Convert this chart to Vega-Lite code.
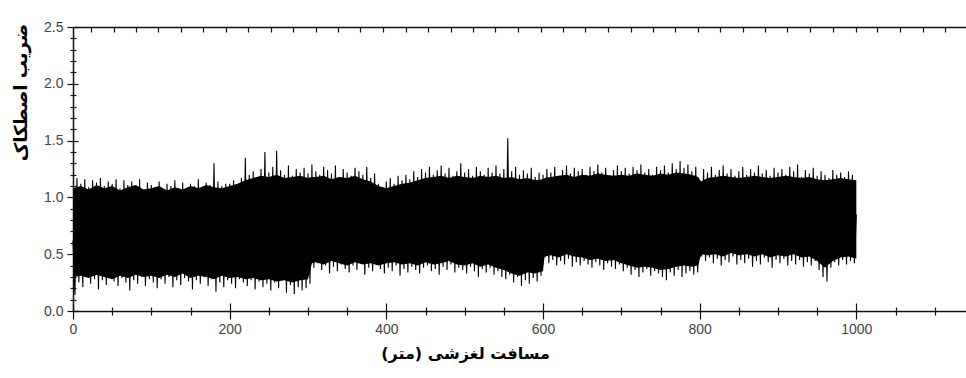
{
"$schema": "https://vega.github.io/schema/vega-lite/v6.json",
"autosize": "none",
"width": 893,
"height": 284,
"padding": {"left": 73, "top": 27, "right": 0, "bottom": 67},
"background": "white",
"config": {"view": {"stroke": null}, "axis": {"grid": false, "labelFont": "Liberation Sans", "labelFontSize": 14, "labelColor": "#444", "domainColor": "#111", "domainWidth": 1.5, "tickColor": "#111", "tickWidth": 1.2, "titleFont": "DejaVu Sans", "titleFontWeight": "bold", "titleFontSize": 16, "titleColor": "#000", "labelOverlap": false, "labelFlush": false}},
"datasets": {
"band": [
{"d":0,"hi":1.08,"lo":0.3},{"d":10,"hi":1.1,"lo":0.31},{"d":20,"hi":1.07,"lo":0.29},{"d":30,"hi":1.11,"lo":0.32},{"d":40,"hi":1.08,"lo":0.3},{"d":50,"hi":1.1,"lo":0.28},{"d":60,"hi":1.06,"lo":0.31},{"d":70,"hi":1.09,"lo":0.29},{"d":80,"hi":1.11,"lo":0.32},{"d":90,"hi":1.07,"lo":0.3},
{"d":100,"hi":1.08,"lo":0.31},{"d":110,"hi":1.1,"lo":0.29},{"d":120,"hi":1.06,"lo":0.32},{"d":130,"hi":1.09,"lo":0.3},{"d":140,"hi":1.07,"lo":0.33},{"d":150,"hi":1.1,"lo":0.29},{"d":160,"hi":1.08,"lo":0.31},{"d":170,"hi":1.11,"lo":0.3},{"d":180,"hi":1.09,"lo":0.28},{"d":190,"hi":1.08,"lo":0.31},
{"d":200,"hi":1.1,"lo":0.29},{"d":210,"hi":1.12,"lo":0.3},{"d":220,"hi":1.15,"lo":0.28},{"d":230,"hi":1.17,"lo":0.29},{"d":240,"hi":1.19,"lo":0.27},{"d":250,"hi":1.18,"lo":0.28},{"d":260,"hi":1.2,"lo":0.26},{"d":270,"hi":1.17,"lo":0.27},{"d":280,"hi":1.18,"lo":0.25},{"d":290,"hi":1.19,"lo":0.27},
{"d":300,"hi":1.17,"lo":0.28},{"d":305,"hi":1.18,"lo":0.42},{"d":310,"hi":1.18,"lo":0.43},{"d":320,"hi":1.19,"lo":0.41},{"d":330,"hi":1.16,"lo":0.44},{"d":340,"hi":1.18,"lo":0.42},{"d":350,"hi":1.17,"lo":0.4},{"d":360,"hi":1.19,"lo":0.43},{"d":370,"hi":1.16,"lo":0.41},{"d":380,"hi":1.14,"lo":0.42},{"d":390,"hi":1.1,"lo":0.4},
{"d":400,"hi":1.08,"lo":0.42},{"d":410,"hi":1.1,"lo":0.43},{"d":420,"hi":1.12,"lo":0.41},{"d":430,"hi":1.13,"lo":0.42},{"d":440,"hi":1.15,"lo":0.4},{"d":450,"hi":1.17,"lo":0.43},{"d":460,"hi":1.18,"lo":0.41},{"d":470,"hi":1.19,"lo":0.42},{"d":480,"hi":1.17,"lo":0.44},{"d":490,"hi":1.19,"lo":0.41},
{"d":500,"hi":1.18,"lo":0.4},{"d":510,"hi":1.17,"lo":0.42},{"d":520,"hi":1.19,"lo":0.39},{"d":530,"hi":1.18,"lo":0.41},{"d":540,"hi":1.19,"lo":0.38},{"d":550,"hi":1.17,"lo":0.36},{"d":560,"hi":1.18,"lo":0.33},{"d":570,"hi":1.16,"lo":0.31},{"d":580,"hi":1.17,"lo":0.34},{"d":590,"hi":1.15,"lo":0.33},
{"d":600,"hi":1.16,"lo":0.35},{"d":602,"hi":1.17,"lo":0.48},{"d":610,"hi":1.18,"lo":0.49},{"d":620,"hi":1.19,"lo":0.47},{"d":630,"hi":1.2,"lo":0.5},{"d":640,"hi":1.18,"lo":0.48},{"d":650,"hi":1.2,"lo":0.47},{"d":660,"hi":1.19,"lo":0.45},{"d":670,"hi":1.21,"lo":0.46},{"d":680,"hi":1.2,"lo":0.44},{"d":690,"hi":1.19,"lo":0.45},
{"d":700,"hi":1.2,"lo":0.42},{"d":710,"hi":1.19,"lo":0.4},{"d":720,"hi":1.21,"lo":0.38},{"d":730,"hi":1.2,"lo":0.39},{"d":740,"hi":1.19,"lo":0.38},{"d":750,"hi":1.21,"lo":0.36},{"d":760,"hi":1.2,"lo":0.37},{"d":770,"hi":1.22,"lo":0.39},{"d":780,"hi":1.21,"lo":0.4},{"d":790,"hi":1.2,"lo":0.39},{"d":798,"hi":1.18,"lo":0.4},
{"d":802,"hi":1.14,"lo":0.5},{"d":810,"hi":1.17,"lo":0.49},{"d":820,"hi":1.18,"lo":0.5},{"d":830,"hi":1.19,"lo":0.48},{"d":840,"hi":1.18,"lo":0.51},{"d":850,"hi":1.17,"lo":0.49},{"d":860,"hi":1.18,"lo":0.5},{"d":870,"hi":1.19,"lo":0.48},{"d":880,"hi":1.18,"lo":0.5},{"d":890,"hi":1.17,"lo":0.47},
{"d":900,"hi":1.18,"lo":0.49},{"d":910,"hi":1.19,"lo":0.48},{"d":920,"hi":1.18,"lo":0.5},{"d":930,"hi":1.17,"lo":0.47},{"d":940,"hi":1.18,"lo":0.48},{"d":950,"hi":1.16,"lo":0.44},{"d":960,"hi":1.15,"lo":0.38},{"d":970,"hi":1.16,"lo":0.44},{"d":980,"hi":1.17,"lo":0.47},{"d":990,"hi":1.16,"lo":0.48},{"d":1000,"hi":1.15,"lo":0.46}
],
"sig": [
{"d":0,"f":0.62},{"d":2.5,"f":0.14},{"d":5,"f":1.17},{"d":7.5,"f":0.25},{"d":10,"f":1.12},{"d":12.5,"f":0.21},{"d":15,"f":1.16},{"d":17.5,"f":0.3},{"d":20,"f":1.09},{"d":22.5,"f":0.24},{"d":25,"f":1.15},{"d":27.5,"f":0.28},{"d":30,"f":1.13},{"d":32.5,"f":0.19},{"d":35,"f":1.17},{"d":37.5,"f":0.27},{"d":40,"f":1.1},{"d":42.5,"f":0.23},{"d":45,"f":1.14},{"d":47.5,"f":0.3},
{"d":50,"f":1.12},{"d":52.5,"f":0.26},{"d":55,"f":1.16},{"d":57.5,"f":0.22},{"d":60,"f":1.08},{"d":62.5,"f":0.29},{"d":65,"f":1.15},{"d":67.5,"f":0.25},{"d":70,"f":1.11},{"d":72.5,"f":0.18},{"d":75,"f":1.14},{"d":77.5,"f":0.27},{"d":80,"f":1.1},{"d":82.5,"f":0.24},{"d":85,"f":1.16},{"d":87.5,"f":0.3},{"d":90,"f":1.07},{"d":92.5,"f":0.22},{"d":95,"f":1.13},{"d":97.5,"f":0.28},
{"d":100,"f":1.11},{"d":102.5,"f":0.25},{"d":105,"f":1.09},{"d":107.5,"f":0.2},{"d":110,"f":1.14},{"d":112.5,"f":0.28},{"d":115,"f":1.06},{"d":117.5,"f":0.24},{"d":120,"f":1.12},{"d":122.5,"f":0.3},{"d":125,"f":1.1},{"d":127.5,"f":0.21},{"d":130,"f":1.15},{"d":132.5,"f":0.27},{"d":135,"f":1.08},{"d":137.5,"f":0.23},{"d":140,"f":1.13},{"d":142.5,"f":0.29},{"d":145,"f":1.05},{"d":147.5,"f":0.26},
{"d":150,"f":1.12},{"d":152.5,"f":0.19},{"d":155,"f":1.1},{"d":157.5,"f":0.27},{"d":160,"f":1.16},{"d":162.5,"f":0.24},{"d":165,"f":1.09},{"d":167.5,"f":0.3},{"d":170,"f":1.13},{"d":172.5,"f":0.22},{"d":175,"f":1.11},{"d":177.5,"f":0.28},{"d":180,"f":1.3},{"d":182.5,"f":0.17},{"d":185,"f":1.14},{"d":187.5,"f":0.25},{"d":190,"f":1.1},{"d":192.5,"f":0.21},{"d":195,"f":1.12},{"d":197.5,"f":0.27},
{"d":200,"f":1.12},{"d":202.5,"f":0.24},{"d":205,"f":1.15},{"d":207.5,"f":0.2},{"d":210,"f":1.1},{"d":212.5,"f":0.28},{"d":215,"f":1.17},{"d":217.5,"f":0.25},{"d":220,"f":1.35},{"d":222.5,"f":0.22},{"d":225,"f":1.2},{"d":227.5,"f":0.27},{"d":230,"f":1.23},{"d":232.5,"f":0.19},{"d":235,"f":1.18},{"d":237.5,"f":0.26},{"d":240,"f":1.25},{"d":242.5,"f":0.21},{"d":245,"f":1.4},{"d":247.5,"f":0.24},
{"d":250,"f":1.22},{"d":252.5,"f":0.18},{"d":255,"f":1.27},{"d":257.5,"f":0.25},{"d":260,"f":1.41},{"d":262.5,"f":0.2},{"d":265,"f":1.24},{"d":267.5,"f":0.27},{"d":270,"f":1.2},{"d":272.5,"f":0.16},{"d":275,"f":1.28},{"d":277.5,"f":0.23},{"d":280,"f":1.19},{"d":282.5,"f":0.15},{"d":285,"f":1.25},{"d":287.5,"f":0.21},{"d":290,"f":1.22},{"d":292.5,"f":0.18},{"d":295,"f":1.26},{"d":297.5,"f":0.2},
{"d":300,"f":1.21},{"d":302.5,"f":0.24},{"d":305,"f":1.29},{"d":307.5,"f":0.38},{"d":310,"f":1.23},{"d":312.5,"f":0.42},{"d":315,"f":1.2},{"d":317.5,"f":0.36},{"d":320,"f":1.27},{"d":322.5,"f":0.4},{"d":325,"f":1.24},{"d":327.5,"f":0.33},{"d":330,"f":1.21},{"d":332.5,"f":0.39},{"d":335,"f":1.28},{"d":337.5,"f":0.35},{"d":340,"f":1.18},{"d":342.5,"f":0.41},{"d":345,"f":1.25},{"d":347.5,"f":0.37},
{"d":350,"f":1.22},{"d":352.5,"f":0.34},{"d":355,"f":1.19},{"d":357.5,"f":0.4},{"d":360,"f":1.26},{"d":362.5,"f":0.36},{"d":365,"f":1.23},{"d":367.5,"f":0.43},{"d":370,"f":1.2},{"d":372.5,"f":0.32},{"d":375,"f":1.27},{"d":377.5,"f":0.38},{"d":380,"f":1.17},{"d":382.5,"f":0.35},{"d":385,"f":1.21},{"d":387.5,"f":0.41},{"d":390,"f":1.12},{"d":392.5,"f":0.37},{"d":395,"f":1.09},{"d":397.5,"f":0.33},
{"d":400,"f":1.14},{"d":402.5,"f":0.38},{"d":405,"f":1.17},{"d":407.5,"f":0.35},{"d":410,"f":1.12},{"d":412.5,"f":0.4},{"d":415,"f":1.19},{"d":417.5,"f":0.31},{"d":420,"f":1.15},{"d":422.5,"f":0.37},{"d":425,"f":1.2},{"d":427.5,"f":0.34},{"d":430,"f":1.16},{"d":432.5,"f":0.39},{"d":435,"f":1.23},{"d":437.5,"f":0.36},{"d":440,"f":1.18},{"d":442.5,"f":0.33},{"d":445,"f":1.25},{"d":447.5,"f":0.38},
{"d":450,"f":1.22},{"d":452.5,"f":0.4},{"d":455,"f":1.27},{"d":457.5,"f":0.35},{"d":460,"f":1.2},{"d":462.5,"f":0.37},{"d":465,"f":1.24},{"d":467.5,"f":0.32},{"d":470,"f":1.28},{"d":472.5,"f":0.39},{"d":475,"f":1.21},{"d":477.5,"f":0.36},{"d":480,"f":1.26},{"d":482.5,"f":0.41},{"d":485,"f":1.19},{"d":487.5,"f":0.34},{"d":490,"f":1.23},{"d":492.5,"f":0.38},{"d":495,"f":1.3},{"d":497.5,"f":0.36},
{"d":500,"f":1.22},{"d":502.5,"f":0.33},{"d":505,"f":1.25},{"d":507.5,"f":0.39},{"d":510,"f":1.19},{"d":512.5,"f":0.35},{"d":515,"f":1.27},{"d":517.5,"f":0.3},{"d":520,"f":1.23},{"d":522.5,"f":0.37},{"d":525,"f":1.2},{"d":527.5,"f":0.34},{"d":530,"f":1.26},{"d":532.5,"f":0.38},{"d":535,"f":1.22},{"d":537.5,"f":0.32},{"d":540,"f":1.28},{"d":542.5,"f":0.35},{"d":545,"f":1.21},{"d":547.5,"f":0.3},
{"d":550,"f":1.25},{"d":552.5,"f":0.28},{"d":555,"f":1.52},{"d":557.5,"f":0.32},{"d":560,"f":1.23},{"d":562.5,"f":0.25},{"d":565,"f":1.27},{"d":567.5,"f":0.3},{"d":570,"f":1.2},{"d":572.5,"f":0.22},{"d":575,"f":1.24},{"d":577.5,"f":0.27},{"d":580,"f":1.21},{"d":582.5,"f":0.24},{"d":585,"f":1.26},{"d":587.5,"f":0.29},{"d":590,"f":1.18},{"d":592.5,"f":0.26},{"d":595,"f":1.22},{"d":597.5,"f":0.31},
{"d":600,"f":1.2},{"d":602.5,"f":0.47},{"d":605,"f":1.25},{"d":607.5,"f":0.42},{"d":610,"f":1.22},{"d":612.5,"f":0.45},{"d":615,"f":1.27},{"d":617.5,"f":0.4},{"d":620,"f":1.19},{"d":622.5,"f":0.44},{"d":625,"f":1.24},{"d":627.5,"f":0.41},{"d":630,"f":1.28},{"d":632.5,"f":0.46},{"d":635,"f":1.21},{"d":637.5,"f":0.39},{"d":640,"f":1.26},{"d":642.5,"f":0.43},{"d":645,"f":1.23},{"d":647.5,"f":0.4},
{"d":650,"f":1.25},{"d":652.5,"f":0.44},{"d":655,"f":1.2},{"d":657.5,"f":0.41},{"d":660,"f":1.27},{"d":662.5,"f":0.38},{"d":665,"f":1.23},{"d":667.5,"f":0.43},{"d":670,"f":1.29},{"d":672.5,"f":0.4},{"d":675,"f":1.22},{"d":677.5,"f":0.36},{"d":680,"f":1.26},{"d":682.5,"f":0.42},{"d":685,"f":1.19},{"d":687.5,"f":0.39},{"d":690,"f":1.24},{"d":692.5,"f":0.37},{"d":695,"f":1.28},{"d":697.5,"f":0.41},
{"d":700,"f":1.23},{"d":702.5,"f":0.35},{"d":705,"f":1.26},{"d":707.5,"f":0.38},{"d":710,"f":1.21},{"d":712.5,"f":0.32},{"d":715,"f":1.27},{"d":717.5,"f":0.36},{"d":720,"f":1.24},{"d":722.5,"f":0.3},{"d":725,"f":1.29},{"d":727.5,"f":0.34},{"d":730,"f":1.22},{"d":732.5,"f":0.37},{"d":735,"f":1.25},{"d":737.5,"f":0.31},{"d":740,"f":1.2},{"d":742.5,"f":0.35},{"d":745,"f":1.27},{"d":747.5,"f":0.33},
{"d":750,"f":1.24},{"d":752.5,"f":0.3},{"d":755,"f":1.28},{"d":757.5,"f":0.27},{"d":760,"f":1.22},{"d":762.5,"f":0.34},{"d":765,"f":1.3},{"d":767.5,"f":0.31},{"d":770,"f":1.25},{"d":772.5,"f":0.36},{"d":775,"f":1.32},{"d":777.5,"f":0.3},{"d":780,"f":1.26},{"d":782.5,"f":0.33},{"d":785,"f":1.29},{"d":787.5,"f":0.35},{"d":790,"f":1.23},{"d":792.5,"f":0.32},{"d":795,"f":1.27},{"d":797.5,"f":0.34},
{"d":800,"f":1.1},{"d":802.5,"f":0.48},{"d":805,"f":1.25},{"d":807.5,"f":0.44},{"d":810,"f":1.22},{"d":812.5,"f":0.47},{"d":815,"f":1.27},{"d":817.5,"f":0.42},{"d":820,"f":1.2},{"d":822.5,"f":0.46},{"d":825,"f":1.24},{"d":827.5,"f":0.4},{"d":830,"f":1.28},{"d":832.5,"f":0.45},{"d":835,"f":1.21},{"d":837.5,"f":0.43},{"d":840,"f":1.25},{"d":842.5,"f":0.48},{"d":845,"f":1.19},{"d":847.5,"f":0.41},
{"d":850,"f":1.23},{"d":852.5,"f":0.45},{"d":855,"f":1.27},{"d":857.5,"f":0.42},{"d":860,"f":1.2},{"d":862.5,"f":0.46},{"d":865,"f":1.25},{"d":867.5,"f":0.39},{"d":870,"f":1.22},{"d":872.5,"f":0.44},{"d":875,"f":1.28},{"d":877.5,"f":0.41},{"d":880,"f":1.21},{"d":882.5,"f":0.47},{"d":885,"f":1.24},{"d":887.5,"f":0.43},{"d":890,"f":1.19},{"d":892.5,"f":0.38},{"d":895,"f":1.26},{"d":897.5,"f":0.45},
{"d":900,"f":1.22},{"d":902.5,"f":0.42},{"d":905,"f":1.25},{"d":907.5,"f":0.46},{"d":910,"f":1.2},{"d":912.5,"f":0.4},{"d":915,"f":1.27},{"d":917.5,"f":0.44},{"d":920,"f":1.23},{"d":922.5,"f":0.41},{"d":925,"f":1.29},{"d":927.5,"f":0.45},{"d":930,"f":1.18},{"d":932.5,"f":0.39},{"d":935,"f":1.24},{"d":937.5,"f":0.43},{"d":940,"f":1.21},{"d":942.5,"f":0.4},{"d":945,"f":1.26},{"d":947.5,"f":0.44},
{"d":950,"f":1.19},{"d":952.5,"f":0.36},{"d":955,"f":1.23},{"d":957.5,"f":0.3},{"d":960,"f":1.2},{"d":962.5,"f":0.26},{"d":965,"f":1.17},{"d":967.5,"f":0.38},{"d":970,"f":1.24},{"d":972.5,"f":0.43},{"d":975,"f":1.2},{"d":977.5,"f":0.4},{"d":980,"f":1.22},{"d":982.5,"f":0.45},{"d":985,"f":1.18},{"d":987.5,"f":0.41},{"d":990,"f":1.23},{"d":992.5,"f":0.44},{"d":995,"f":1.2},{"d":997.5,"f":0.42},
{"d":1000,"f":0.85}
]},
"data": {"name": "sig"},
"layer": [
{
"data": {"name": "band"},
"mark": {"type": "area", "color": "#000", "opacity": 1},
"encoding": {
"x": {"field": "d", "type": "quantitative", "scale": {"domain": [0, 1140], "nice": false, "zero": false}, "axis": null},
"y": {"field": "lo", "type": "quantitative", "scale": {"domain": [0, 2.5], "nice": false}, "axis": null},
"y2": {"field": "hi"}
}
},
{
"mark": {"type": "line", "color": "#000", "strokeWidth": 1.1},
"encoding": {
"x": {"field": "d", "type": "quantitative", "scale": {"domain": [0, 1140], "nice": false, "zero": false},
"axis": {"orient": "bottom", "values": [0,50,100,150,200,250,300,350,400,450,500,550,600,650,700,750,800,850,900,950,1000,1050,1100], "format": "d", "labelExpr": "datum.value % 200 === 0 ? datum.label : ''", "tickSize": {"condition": {"test": "datum.value % 200 === 0", "value": 8}, "value": 4}, "labelPadding": 3, "title": "مسافت لغزشی (متر)", "titleX": 392, "titleY": 42, "titleAnchor": null, "titleAlign": "center", "titleBaseline": "middle"}},
"y": {"field": "f", "type": "quantitative", "scale": {"domain": [0, 2.5], "nice": false},
"axis": {"orient": "left", "values": [0,0.1,0.2,0.3,0.4,0.5,0.6,0.7,0.8,0.9,1,1.1,1.2,1.3,1.4,1.5,1.6,1.7,1.8,1.9,2,2.1,2.2,2.3,2.4,2.5], "format": ".1f", "labelExpr": "abs(datum.value*2 - round(datum.value*2)) < 0.001 ? datum.label : ''", "tickSize": {"condition": {"test": "abs(datum.value*2 - round(datum.value*2)) < 0.001", "value": 6}, "value": 3}, "labelPadding": 4, "title": "ضریب اصطکاک", "titleFontSize": 18, "titleX": -52, "titleY": 65, "titleAnchor": null, "titleAlign": "center", "titleBaseline": "middle"}}
}
},
{
"mark": {"type": "line", "opacity": 0},
"encoding": {
"x": {"field": "d", "type": "quantitative", "scale": {"domain": [0, 1140], "nice": false, "zero": false},
"axis": {"orient": "top", "values": [23,52,80,109,138,166,195,224,253,281,310,338,367,396,425,453,482,511,539,568,597,625,654,683,712,740,769,798,826,855,884,912,941,970,999,1027,1056,1085,1113], "labels": false, "tickSize": -5, "title": null}},
"y": {"field": "f", "type": "quantitative", "scale": {"domain": [0, 2.5], "nice": false},
"axis": {"orient": "left", "values": [0,0.1,0.2,0.3,0.4,0.5,0.6,0.7,0.8,0.9,1,1.1,1.2,1.3,1.4,1.5,1.6,1.7,1.8,1.9,2,2.1,2.2,2.3,2.4,2.5], "labels": false, "domain": false, "title": null, "tickSize": {"condition": {"test": "abs(datum.value*2 - round(datum.value*2)) < 0.001", "value": -5}, "value": -3}}}
}
},
{
"mark": {"type": "line", "opacity": 0},
"encoding": {
"x": {"field": "d", "type": "quantitative", "scale": {"domain": [0, 1140], "nice": false, "zero": false},
"axis": {"orient": "bottom", "values": [0,50,100,150,200,250,300,350,400,450,500,550,600,650,700,750,800,850,900,950,1000,1050,1100], "labels": false, "domain": false, "title": null, "tickSize": {"condition": {"test": "datum.value % 200 === 0", "value": -8}, "value": -4}}},
"y": {"field": "f", "type": "quantitative", "axis": null}
}
}
],
"resolve": {"axis": {"x": "independent", "y": "independent"}}
}
